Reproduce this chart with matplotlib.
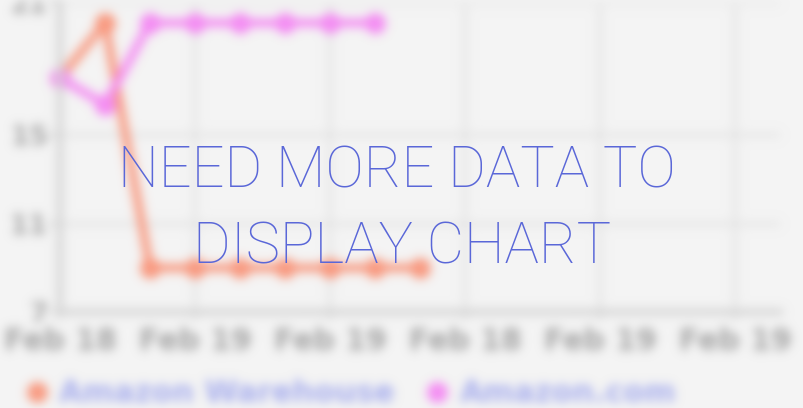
import numpy as np
import matplotlib
matplotlib.use("Agg")
import matplotlib.pyplot as plt
from matplotlib.lines import Line2D

# chart data (x = sample index along the time axis)
warehouse_x = [0, 1, 2, 3, 4, 5, 6, 7, 8]
warehouse_y = [17.6, 20.1, 9.0, 9.0, 9.0, 9.0, 9.0, 9.0, 9.0]
amazon_x = [0, 1, 2, 3, 4, 5, 6, 7]
amazon_y = [17.6, 16.4, 20.1, 20.1, 20.1, 20.1, 20.1, 20.1]
series_names = ["Amazon Warehouse", "Amazon.com"]
series_colors = ["#f9987e", "#f48af3"]
xtick_pos = [0, 3, 6, 9, 12, 15]
xtick_labels = ["Feb 18", "Feb 19", "Feb 19", "Feb 18", "Feb 19", "Feb 19"]
ytick_vals = [7, 11, 15, 21]
overlay = ["NEED MORE DATA TO", "DISPLAY CHART"]

BG = "#f4f4f4"


def blur(sigma):
    # gaussian blur used as an agg_filter (done on premultiplied colour)
    r = int(3 * sigma)
    k = np.exp(-0.5 * (np.arange(-r, r + 1) / sigma) ** 2); k /= k.sum()

    def smooth(a):
        b = np.zeros_like(a)
        for i, w in enumerate(k):
            b += w * np.roll(a, i - r, axis=0)
        c = np.zeros_like(b)
        for i, w in enumerate(k):
            c += w * np.roll(b, i - r, axis=1)
        return c

    def f(im, dpi):
        a = np.pad(im, ((r, r), (r, r), (0, 0)))
        alpha = a[..., 3:4]
        pm = np.concatenate([a[..., :3] * alpha, alpha], axis=2)
        s = smooth(pm)
        out = s.copy()
        al = s[..., 3:4]
        out[..., :3] = np.where(al > 1e-4, s[..., :3] / np.maximum(al, 1e-4), 0)
        return np.clip(out, 0, 1), -r, -r
    return f


fig = plt.figure(figsize=(8.04, 4.08), dpi=100, facecolor=BG)
ax = fig.add_axes([60 / 804, 1 - 312 / 408, 720 / 804, 309 / 408])
ax.set_facecolor("none")

for xs, ys, col in [(warehouse_x, warehouse_y, series_colors[0]),
                    (amazon_x, amazon_y, series_colors[1])]:
    ax.plot(xs, ys, color=col, lw=6, marker="o", ms=14, mec=col, clip_on=False)

ax.set_xlim(0, 16); ax.set_ylim(7, 21)
ax.set_xticks(xtick_pos); ax.set_xticklabels(xtick_labels, fontweight="bold")
ax.set_yticks(ytick_vals); ax.set_yticklabels(ytick_vals, fontweight="bold")
ax.tick_params(axis="x", labelsize=21.5, colors="#d6d6d6", labelcolor="#a4a4a4", length=5, width=3, pad=6)
ax.tick_params(axis="y", labelsize=19, colors="#d6d6d6", labelcolor="#a4a4a4", length=8, width=3, pad=1)
ax.grid(True, color="#e3e3e3", lw=3)
for s in ["top", "right"]:
    ax.spines[s].set_visible(False)
for s in ["left", "bottom"]:
    ax.spines[s].set_color("#d4d4d4"); ax.spines[s].set_linewidth(4.5)
ax.set_agg_filter(blur(5.0))

handles = [Line2D([], [], color=c, marker="o", ms=14, lw=0) for c in series_colors]
leg = fig.legend(handles, series_names, loc="center", bbox_to_anchor=(352 / 804, 0.035),
                 ncol=2, frameon=False, handlelength=0.6,
                 handletextpad=0.45, columnspacing=1.1, labelcolor="#a7aeee",
                 prop={"weight": "bold", "size": 21.8})
leg.set_agg_filter(blur(5.0))

# overlay message (sharp)
for txt, xc, yb in [(overlay[0], 397, 188), (overlay[1], 402, 263)]:
    fig.text(xc / 804, 1 - yb / 408, txt, ha="center", va="baseline",
             fontsize=41.5, family="Roboto", fontweight="light", color="#5a67d8")

fig.savefig("out.png", dpi=100, facecolor=BG)
